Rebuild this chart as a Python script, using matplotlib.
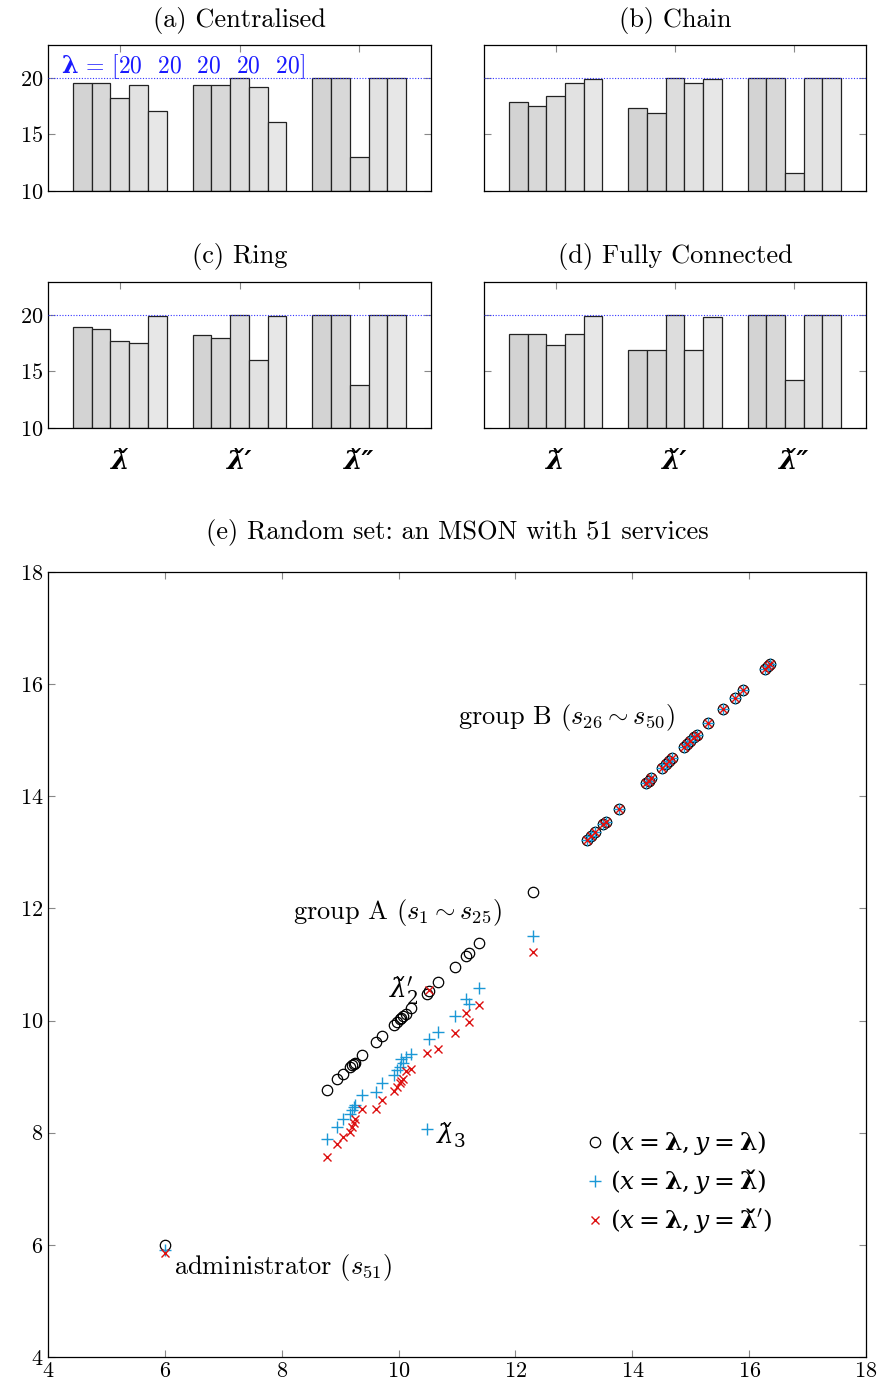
import matplotlib
matplotlib.use('Agg')
import matplotlib.pyplot as plt
import numpy as np

plt.rcParams['font.family'] = ['cmr10']
plt.rcParams['mathtext.fontset'] = 'cm'
plt.rcParams['axes.formatter.use_mathtext'] = True

# estimated rates per topology: rows = (lam_check, lam_check', lam_check''), cols = services s1..s5
centralised = [[19.52, 19.52, 18.21, 19.40, 17.08],
               [19.35, 19.40, 20.00, 19.23, 16.07],
               [20.00, 20.00, 13.00, 20.00, 20.00]]
chain = [[17.83, 17.53, 18.42, 19.58, 19.91],
         [17.35, 16.93, 20.00, 19.52, 19.91],
         [20.00, 20.00, 11.58, 20.00, 20.00]]
ring = [[18.90, 18.75, 17.65, 17.53, 19.94],
        [18.18, 17.92, 20.00, 16.01, 19.88],
        [20.00, 20.00, 13.78, 20.00, 20.00]]
fully_connected = [[18.33, 18.33, 17.32, 18.33, 19.94],
                   [16.90, 16.90, 20.00, 16.90, 19.82],
                   [20.00, 20.00, 14.23, 20.00, 20.00]]
true_rate = 20
group_labels = ['\u03bb\u030c', '\u03bb\u030c\u2032', '\u03bb\u030c\u2033']

# random 51-service MSON: group A (s1..s25)
lam_a = [8.77, 8.95, 9.05, 9.17, 9.20, 9.23, 9.25, 9.38, 9.62, 9.72, 9.92, 9.98, 10.02,
         10.05, 10.08, 10.12, 10.22, 10.48, 10.52, 10.68, 10.96, 11.15, 11.20, 11.38, 12.30]
check_a = [7.89, 8.10, 8.24, 8.33, 8.40, 8.46, 8.50, 8.68, 8.72, 8.88, 9.03, 9.12, 9.18,
           9.31, 9.25, 9.35, 9.40, 8.07, 9.68, 9.80, 10.09, 10.38, 10.30, 10.58, 11.50]
check2_a = [7.57, 7.80, 7.93, 8.02, 8.10, 8.17, 8.25, 8.42, 8.42, 8.58, 8.74, 8.82, 8.88,
            8.92, 8.95, 9.10, 9.13, 9.42, 10.54, 9.49, 9.78, 10.13, 9.98, 10.28, 11.22]
# group B (s26..s50): estimates coincide with the true rates
lam_b = [13.22, 13.30, 13.36, 13.50, 13.55, 13.78, 14.23, 14.28, 14.32, 14.50, 14.58, 14.63,
         14.68, 14.88, 14.93, 14.98, 15.05, 15.10, 15.30, 15.55, 15.75, 15.90, 16.27, 16.33, 16.36]
check_b = list(lam_b)
check2_b = list(lam_b)
# administrator s51
lam_admin = [6.00]
check_admin = [5.90]
check2_admin = [5.85]

W, H = 877, 1390
fig = plt.figure(figsize=(W / 100, H / 100), dpi=100)


def px_axes(left, top, right, bottom):
    return fig.add_axes([left / W, 1 - bottom / H, (right - left) / W, (bottom - top) / H])


bar_colors = ['#d3d3d3', '#d8d8d8', '#dddddd', '#e2e2e2', '#e7e7e7']
tick_kw = dict(direction='in', length=5, width=0.8, color='#888888', labelsize=16,
               top=True, right=True)

panels = [
    ('(a) Centralised', centralised, (48, 45, 431, 191), True, False),
    ('(b) Chain', chain, (484, 45, 866, 191), False, False),
    ('(c) Ring', ring, (48, 282, 431, 428), True, True),
    ('(d) Fully Connected', fully_connected, (484, 282, 866, 428), False, True),
]

bw = 0.157
for title, data, box, show_y, show_x in panels:
    ax = px_axes(*box)
    data = np.array(data)
    for i in range(5):
        ax.bar(np.arange(3) + (i - 2) * bw, data[:, i] - 10, bottom=10, width=bw,
               color=bar_colors[i], edgecolor='#222222', linewidth=0.9, zorder=2)
    ax.axhline(true_rate, color='#3333ff', linestyle=(0, (1, 1.5)), linewidth=0.8, zorder=3)
    ax.set_xlim(-0.6, 2.6)
    ax.set_ylim(10, 22.9)
    ax.set_yticks([10, 15, 20])
    ax.set_xticks([0, 1, 2])
    ax.tick_params(**tick_kw)
    if show_x:
        ax.set_xticklabels(group_labels, fontsize=19, family='DejaVu Serif',
                           weight='bold', style='italic')
        ax.tick_params(axis='x', pad=15)
    else:
        ax.set_xticklabels([])
    if not show_y:
        ax.set_yticklabels([])
    for s in ax.spines.values():
        s.set_linewidth(0.9)
    cx = (box[0] + box[2]) / 2
    fig.text(cx / W, 1 - (box[1] - 25) / H, title, ha='center', va='center', fontsize=19)
    if title.startswith('(a)'):
        ax.text(0.035, 0.85, r'$\boldsymbol{\lambda}$ = [20  20  20  20  20]',
                transform=ax.transAxes, color='#1a1aff', fontsize=17, va='center',
                math_fontfamily='dejavuserif')

# (e) scatter of true vs estimated rates
ax = px_axes(48, 572, 866, 1357)
lam = lam_a + lam_b + lam_admin
chk = check_a + check_b + check_admin
chk2 = check2_a + check2_b + check2_admin
ax.plot(lam, lam, 'o', mfc='none', mec='black', ms=7.5, mew=0.9, ls='none',
        label=r'$(x = \boldsymbol{\lambda}, y = \boldsymbol{\lambda})$')
ax.plot(lam, chk, '+', color='#1b98d6', ms=8, mew=1.0, ls='none',
        label='$(x = \\boldsymbol{\\lambda}, y = \\boldsymbol{\u03bb\u030c})$')
ax.plot(lam, chk2, 'x', color='#dd1111', ms=5.5, mew=1.0, ls='none',
        label='$(x = \\boldsymbol{\\lambda}, y = \\boldsymbol{\u03bb\u030c}\')$')
ax.set_xlim(4, 18)
ax.set_ylim(4, 18)
ax.set_xticks(range(4, 19, 2))
ax.set_yticks(range(4, 19, 2))
ax.tick_params(**tick_kw)
for s in ax.spines.values():
    s.set_linewidth(0.9)

ax.text(11.02, 15.40, r'group B $(s_{26} \sim s_{50})$', fontsize=19, va='center')
ax.text(8.19, 11.92, r'group A $(s_{1} \sim s_{25})$', fontsize=19, va='center')
ax.text(6.16, 5.60, r'administrator $(s_{51})$', fontsize=19, va='center')
ax.text(9.83, 10.55, '$\u03bb\u030c_2^{\\prime}$', fontsize=19, va='center',
        math_fontfamily='dejavuserif')
ax.text(10.64, 7.95, '$\u03bb\u030c_3$', fontsize=19, va='center',
        math_fontfamily='dejavuserif')

leg = ax.legend(loc='lower right', bbox_to_anchor=(0.885, 0.155), frameon=False, fontsize=18,
                handlelength=0.6, handletextpad=0.3, labelspacing=0.4,
                borderpad=0, borderaxespad=0)
for t in leg.get_texts():
    t.set_math_fontfamily('dejavuserif')

fig.text(457 / W, 1 - 532 / H, '(e) Random set: an MSON with 51 services',
         ha='center', va='center', fontsize=19)

fig.savefig('out.png', dpi=100)
